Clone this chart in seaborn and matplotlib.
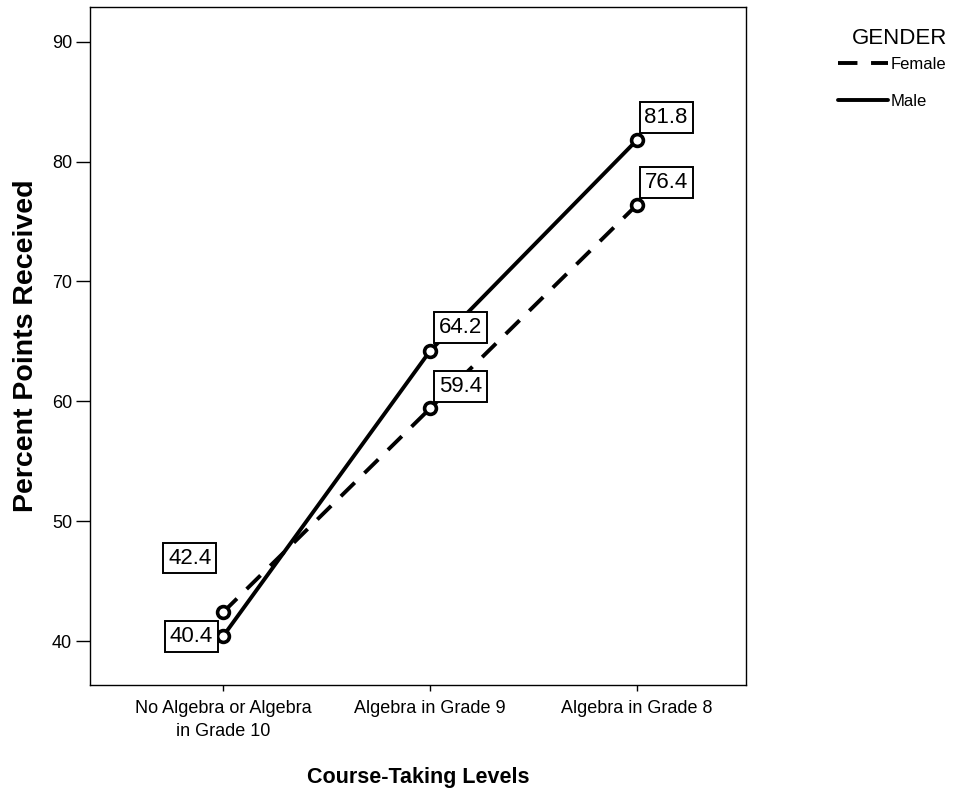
import pandas as pd
import numpy as np
import seaborn as sns
import matplotlib.pyplot as plt
from matplotlib.lines import Line2D

levels = ["No Algebra or Algebra\nin Grade 10", "Algebra in Grade 9", "Algebra in Grade 8"]
female = [42.4, 59.4, 76.4]
male = [40.4, 64.2, 81.8]

df = pd.DataFrame({
    "level": levels * 2,
    "x": [0, 1, 2] * 2,
    "score": female + male,
    "GENDER": ["Female"] * 3 + ["Male"] * 3,
})

sns.set_style("white")
plt.rcParams["font.family"] = ["Liberation Sans", "DejaVu Sans"]
plt.rcParams["text.color"] = "black"
plt.rcParams["axes.labelcolor"] = "black"
plt.rcParams["xtick.color"] = "black"
plt.rcParams["ytick.color"] = "black"

fig = plt.figure(figsize=(9.61, 7.93), dpi=100)
ax = fig.add_axes([0.0937, 0.1362, 0.6826, 0.855])

sns.lineplot(data=df, x="x", y="score", style="GENDER", ax=ax,
             color="black", linewidth=2.8,
             dashes={"Female": (5, 3.5), "Male": ""},
             markers={"Female": "o", "Male": "o"},
             markersize=8.5, markerfacecolor="white", markeredgecolor="black",
             markeredgewidth=2.6, legend=False)

# value labels in boxes
offsets = {
    ("Female", 0): (-24, 39), ("Male", 0): (-23, 0),
    ("Female", 1): (22, 16), ("Male", 1): (22, 17),
    ("Female", 2): (21, 16), ("Male", 2): (21, 16),
}
for _, r in df.iterrows():
    dx, dy = offsets[(r["GENDER"], r["x"])]
    ax.annotate(f"{r['score']:.1f}", (r["x"], r["score"]), xytext=(dx, dy),
                textcoords="offset points", ha="center", va="center", fontsize=16,
                bbox=dict(boxstyle="square,pad=0.22", fc="white", ec="black", lw=1.4))

ax.set_xlim(-0.643, 2.527)
ax.set_ylim(36.33, 92.9)
ax.set_xticks([0, 1, 2])
ax.set_xticklabels(levels, fontsize=13, linespacing=1.45)
ax.set_yticks([40, 50, 60, 70, 80, 90])
ax.tick_params(axis="y", labelsize=13, length=10, pad=3)
ax.tick_params(axis="x", length=4, pad=7)
ax.tick_params(direction="out", width=1, bottom=True, left=True, color="black")
for s in ax.spines.values():
    s.set_color("black")
    s.set_linewidth(1)
ax.set_xlabel("Course-Taking Levels", fontsize=15.5, fontweight="bold", labelpad=19)
ax.set_ylabel("Percent Points Received", fontsize=20.5, fontweight="bold", labelpad=9)

handles = [Line2D([], [], color="black", lw=2.8, ls=(0, (5, 3.5))),
           Line2D([], [], color="black", lw=2.8)]
fig.text(0.986, 0.951, "GENDER", ha="right", va="center", fontsize=16)
fig.legend(handles, ["Female", "Male"], loc="upper left",
           bbox_to_anchor=(0.872, 0.928), frameon=False, fontsize=12,
           handlelength=3.0, handletextpad=0.15,
           labelspacing=1.3, borderpad=0, borderaxespad=0)

fig.savefig("out.png", dpi=100)
